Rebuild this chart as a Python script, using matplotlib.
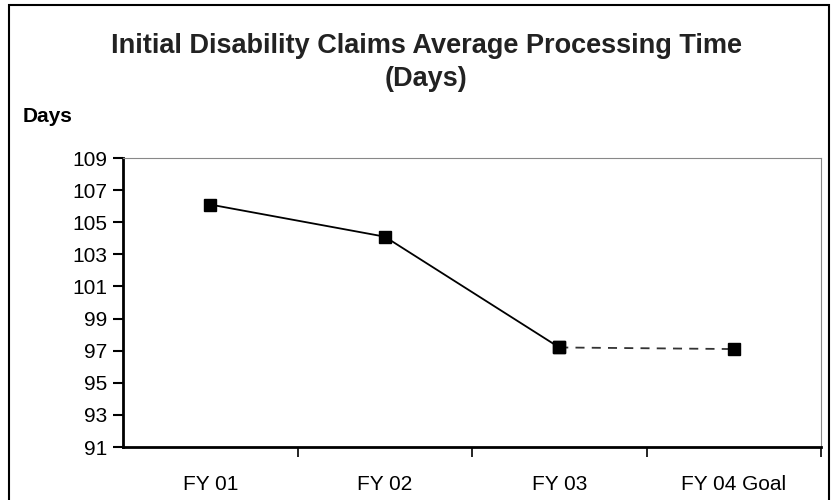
import matplotlib
matplotlib.use("Agg")
import matplotlib.pyplot as plt
from matplotlib.patches import Rectangle

categories = ["FY 01", "FY 02", "FY 03", "FY 04 Goal"]
values = [106.1, 104.1, 97.2, 97.1]
yticks = [91, 93, 95, 97, 99, 101, 103, 105, 107, 109]

plt.rcParams['font.family'] = ['Liberation Sans', 'DejaVu Sans']

fig = plt.figure(figsize=(8.31, 5.0), dpi=100)
fig.patches.append(Rectangle((0.011, -0.02), 0.987, 1.011, transform=fig.transFigure,
                             fill=False, edgecolor='black', linewidth=1.5))

ax = fig.add_axes([123/831, 1 - 447/500, (821-123)/831, (447-158)/500])
x = list(range(len(categories)))

ax.plot(x[:3], values[:3], color='black', linewidth=1.3, marker='s', markersize=8,
        markerfacecolor='black', markeredgecolor='black', zorder=3)
ax.plot(x[2:], values[2:], color='#333333', linewidth=1.3, linestyle=(0, (5, 4)),
        marker='s', markersize=8, markerfacecolor='black', markeredgecolor='black', zorder=2)

ax.set_xlim(-0.5, len(categories) - 0.5)
ax.set_ylim(91, 109)
ax.set_yticks(yticks)
ax.set_yticklabels([str(t) for t in yticks], fontsize=15)
ax.set_xticks(x)
ax.set_xticklabels(categories, fontsize=15)
ax.tick_params(axis='x', length=0, pad=20)
ax.set_xticks([i + 0.5 for i in x], minor=True)
ax.tick_params(axis='x', which='minor', length=7, width=1.2, direction='out')
ax.tick_params(axis='y', length=7, width=1.5, direction='out', pad=4)

for s in ['left', 'bottom']:
    ax.spines[s].set_linewidth(2)
    ax.spines[s].set_color('black')
for s in ['top', 'right']:
    ax.spines[s].set_linewidth(0.8)
    ax.spines[s].set_color('#888888')

fig.text(0.513, 0.908, "Initial Disability Claims Average Processing Time", ha='center',
         va='center', fontsize=19.5, fontweight='bold', color='#222222')
fig.text(0.513, 0.842, "(Days)", ha='center', va='center', fontsize=19.5,
         fontweight='bold', color='#222222')
fig.text(0.027, 0.768, "Days", ha='left', va='center', fontsize=15, fontweight='bold')

fig.savefig("out.png", dpi=100)
